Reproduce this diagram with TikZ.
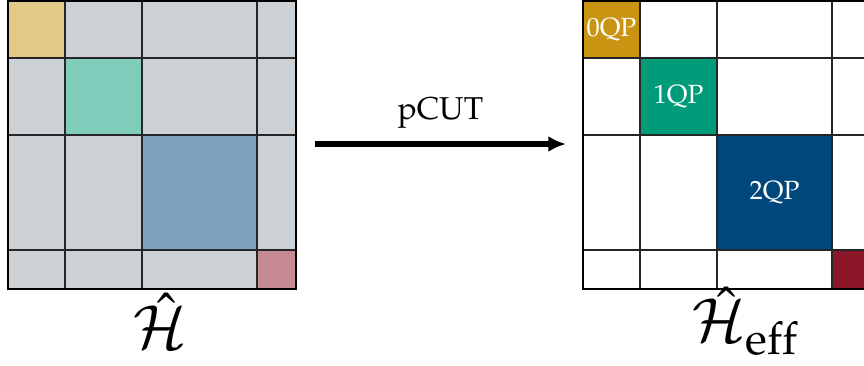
\documentclass[tikz,border=0pt]{standalone}
\usepackage[T1]{fontenc}
\usepackage{mathpazo}
\usetikzlibrary{arrows.meta}

\definecolor{qpzero}{RGB}{200,148,18}
\definecolor{qpone}{RGB}{0,155,120}
\definecolor{qptwo}{RGB}{0,72,124}
\definecolor{qprest}{RGB}{140,22,42}
\definecolor{blockgray}{RGB}{204,209,214}

\tikzset{
  gridline/.style={line width=0.7pt, black!85},
  frame/.style={line width=1.4pt, black},
  qplabel/.style={text=white, font=\fontsize{15}{17}\selectfont},
  hlabel/.style={font=\fontsize{34}{38}\selectfont}
}

\begin{document}
\begin{tikzpicture}[x=0.02cm,y=-0.02cm]
  \useasboundingbox (0,0) rectangle (864,365);

  % full Hamiltonian, all blocks coupled
  \begin{scope}[shift={(8,1)}]
    \fill[blockgray] (0,0) rectangle (288,288);
    \fill[qpzero!50] (0,0) rectangle (57,57);
    \fill[qpone!50] (57,57) rectangle (134,134);
    \fill[qptwo!50] (134,134) rectangle (249,249);
    \fill[qprest!50] (249,249) rectangle (288,288);
    \foreach \p in {57,134,249}{
        \draw[gridline] (\p,0) -- (\p,288);
        \draw[gridline] (0,\p) -- (288,\p);
      }
    \draw[frame] (0,0) rectangle (288,288);
    \node[hlabel] (H) at (152,320) {$\hat{\mathcal{H}}$};
  \end{scope}

  % effective Hamiltonian, block diagonal
  \begin{scope}[shift={(583,1)}]
    \fill[qpzero] (0,0) rectangle (57,57);
    \fill[qpone] (57,57) rectangle (134,134);
    \fill[qptwo] (134,134) rectangle (249,249);
    \fill[qprest] (249,249) rectangle (288,288);
    \foreach \p in {57,134,249}{
        \draw[gridline] (\p,0) -- (\p,288);
        \draw[gridline] (0,\p) -- (288,\p);
      }
    \draw[frame] (0,0) rectangle (288,288);
    \node[qplabel] (q0) at (28.5,28.5) {0QP};
    \node[qplabel] (q1) at (95.5,95.5) {1QP};
    \node[qplabel] (q2) at (191.5,191.5) {2QP};
    \node[hlabel] (Heff) at (162,320) {$\hat{\mathcal{H}}_{\mathrm{eff}}$};
  \end{scope}

  \coordinate (arrL) at (315,144);
  \coordinate (arrR) at (566,144);
  \draw[line width=3.6pt, -{Latex[length=10pt,width=9pt]}] (arrL) -- (arrR)
    node[midway, above=4pt, font=\fontsize{18}{20}\selectfont] (pcut) {pCUT};
\end{tikzpicture}
\end{document}
